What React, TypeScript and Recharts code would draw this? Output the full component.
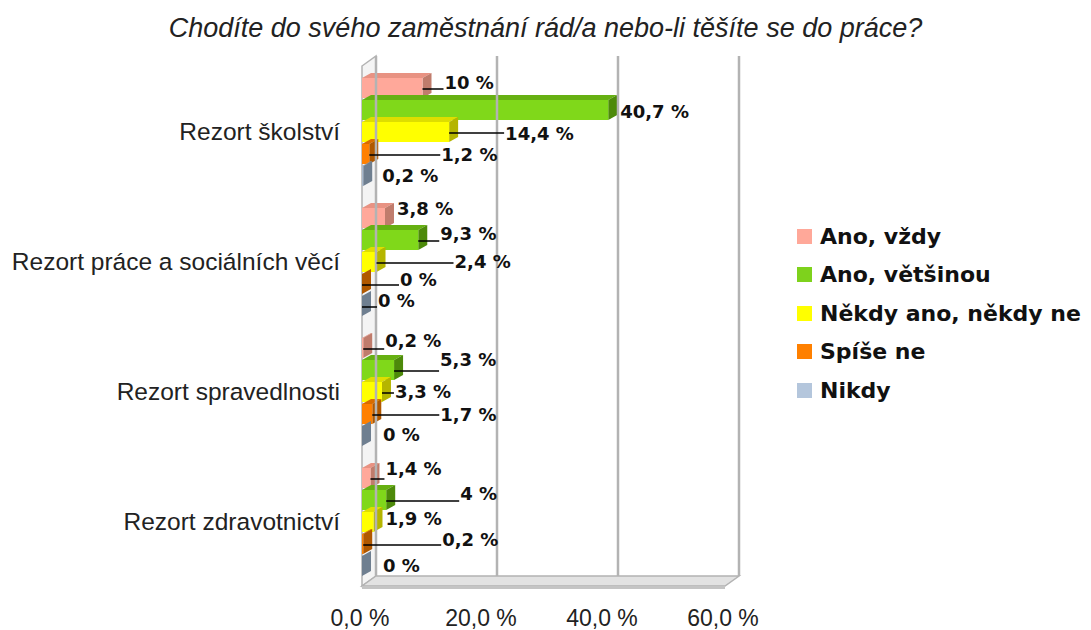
import {
  Bar,
  BarChart,
  LabelList,
  Legend,
  ReferenceArea,
  ReferenceLine,
  XAxis,
  YAxis,
} from "recharts";

const KATEGORIE = [
  "Rezort školství",
  "Rezort práce a sociálních věcí",
  "Rezort spravedlnosti",
  "Rezort zdravotnictví",
];
const ANO_VZDY = [10, 3.8, 0.2, 1.4];
const ANO_VETSINOU = [40.7, 9.3, 5.3, 4];
const NEKDY = [14.4, 2.4, 3.3, 1.9];
const SPISE_NE = [1.2, 0, 1.7, 0.2];
const NIKDY = [0.2, 0, 0, 0];
const OSA_X = [0, 20, 40, 60];

const SERIE = [
  { key: "vzdy", nazev: "Ano, vždy", hodnoty: ANO_VZDY },
  { key: "vetsinou", nazev: "Ano, většinou", hodnoty: ANO_VETSINOU },
  { key: "nekdy", nazev: "Někdy ano, někdy ne", hodnoty: NEKDY },
  { key: "spise", nazev: "Spíše ne", hodnoty: SPISE_NE },
  { key: "nikdy", nazev: "Nikdy", hodnoty: NIKDY },
];

// barvy: čelo, vršek, bok
const BARVY = [
  { celo: "#ffa89a", vrch: "#e89282", bok: "#c07c6c", legenda: "#ffa899" },
  { celo: "#80d81a", vrch: "#66b012", bok: "#4d8a0a", legenda: "#7ed21c" },
  { celo: "#ffff00", vrch: "#dede00", bok: "#b5b500", legenda: "#ffff00" },
  { celo: "#ff8000", vrch: "#d86c00", bok: "#b05800", legenda: "#ff8000" },
  { celo: "#a9b9cc", vrch: "#8c9bac", bok: "#6f7f90", legenda: "#b4c6dc" },
];

// rozložení popisků (dx od konce sloupce, dy od středu, vodicí čára)
const POPISKY: [number, number, boolean][][] = [
  [[22, -6, true], [12, -10, false], [22, -8, true], [15, -10, true]],
  [[12, 1, false], [22, -7, true], [46, -11, true], [74, -7, true]],
  [[56, 1, true], [78, -1, true], [13, -1, true], [12, -4, false]],
  [[72, 0, true], [38, -5, true], [68, 0, true], [79, -5, true]],
  [[19, -1, false], [16, -6, true], [21, -2, false], [21, -1, false]],
];

const HLOUBKA_X = 9;
const HLOUBKA_Y = -5;
const STENA_X = 14;
const STENA_Y = -10;
const MRIZKA = "#b3b3b3";
const TEXT = "#111111";
const SANS = "'Liberation Sans', Arial, sans-serif";
const BOLD = "'DejaVu Sans', Verdana, sans-serif";

const data = KATEGORIE.map((k, i) => ({
  kategorie: k,
  vzdy: ANO_VZDY[i],
  vetsinou: ANO_VETSINOU[i],
  nekdy: NEKDY[i],
  spise: SPISE_NE[i],
  nikdy: NIKDY[i],
}));

function cislo(v: number): string {
  return `${String(v).replace(".", ",")} %`;
}

function Sloupec3D(props: any, s: number) {
  const { x, y, width, height } = props;
  const b = BARVY[s];
  const w = Math.max(0, width);
  const dx = HLOUBKA_X;
  const dy = HLOUBKA_Y;
  return (
    <g>
      <polygon
        points={`${x},${y} ${x + w},${y} ${x + w + dx},${y + dy} ${x + dx},${y + dy}`}
        fill={b.vrch}
      />
      <polygon
        points={`${x + w},${y} ${x + w + dx},${y + dy} ${x + w + dx},${y + height + dy} ${x + w},${y + height}`}
        fill={b.bok}
      />
      {w > 0 && <rect x={x} y={y} width={w} height={height} fill={b.celo} />}
    </g>
  );
}

function popisek(s: number) {
  return (props: any) => {
    const { x, y, width, height, value, index } = props;
    const [dx, dy, cara] = POPISKY[s][index];
    const konec = x + Math.max(0, width);
    const stred = y + height / 2;
    return (
      <g>
        {cara && (
          <line x1={konec} y1={stred + 1} x2={konec + dx - 1} y2={stred + 1} stroke="#000" strokeWidth={1.5} />
        )}
        <text
          x={konec + dx}
          y={stred + dy}
          dominantBaseline="central"
          fontFamily={BOLD}
          fontWeight="bold"
          fontSize={18}
          fill={TEXT}
        >
          {cislo(value)}
        </text>
      </g>
    );
  };
}

function Steny(props: any) {
  const { x, y, width, height } = props;
  const b = y + height;
  const r = x + width;
  return (
    <g>
      <polygon
        points={`${x},${y} ${x + STENA_X},${y + STENA_Y} ${x + STENA_X},${b + STENA_Y} ${x},${b}`}
        fill="#f4f4f4"
        stroke={MRIZKA}
        strokeWidth={1.5}
      />
      <polygon
        points={`${x},${b} ${r},${b} ${r + STENA_X},${b + STENA_Y} ${x + STENA_X},${b + STENA_Y}`}
        fill="#e2e2e2"
        stroke={MRIZKA}
        strokeWidth={1.5}
      />
      <rect x={x} y={b} width={width} height={3} fill="#c4c4c4" />
    </g>
  );
}

function MrizkaZadni(props: any) {
  const { x1, y1, x2, y2 } = props;
  return (
    <line
      x1={x1 + STENA_X}
      y1={Math.min(y1, y2) + STENA_Y}
      x2={x2 + STENA_X}
      y2={Math.max(y1, y2) + STENA_Y}
      stroke={MRIZKA}
      strokeWidth={2.5}
    />
  );
}

function TickX({ x, y, payload }: any) {
  return (
    <text x={x - 2} y={y + 38} textAnchor="middle" fontFamily={SANS} fontSize={23} fill="#222">
      {`${payload.value.toFixed(1).replace(".", ",")} %`}
    </text>
  );
}

function TickY({ x, y, payload }: any) {
  return (
    <text x={x - 20} y={y} textAnchor="end" dominantBaseline="central" fontFamily={SANS} fontSize={24.5} fill="#222">
      {payload.value}
    </text>
  );
}

function Legenda() {
  return (
    <div style={{ fontFamily: BOLD, fontWeight: "bold", fontSize: 22, color: TEXT }}>
      {SERIE.map((s, i) => (
        <div key={s.key} style={{ display: "flex", alignItems: "center", height: 38.5 }}>
          <span style={{ display: "inline-block", width: 15, height: 15, background: BARVY[i].legenda, marginRight: 8 }} />
          {s.nazev}
        </div>
      ))}
    </div>
  );
}

export default function App() {
  return (
    <div style={{ position: "absolute", left: 0, top: 0, width: 1091, height: 630, background: "#fff" }}>
      <div
        style={{
          position: "absolute",
          left: 0,
          top: 14,
          width: 1091,
          textAlign: "center",
          fontFamily: SANS,
          fontStyle: "italic",
          fontSize: 27,
          lineHeight: "28px",
          color: "#222",
        }}
      >
        Chodíte do svého zaměstnání rád/a nebo-li těšíte se do práce?
      </div>
      <BarChart
        width={1091}
        height={630}
        data={data}
        layout="vertical"
        margin={{ top: 66, right: 366, left: 0, bottom: 0 }}
        barCategoryGap={12}
        barGap={2}
      >
        <XAxis
          type="number"
          domain={[0, 60]}
          ticks={OSA_X}
          axisLine={false}
          tickLine={false}
          tickSize={0}
          height={44}
          tick={<TickX />}
        />
        <YAxis
          type="category"
          dataKey="kategorie"
          width={362}
          axisLine={false}
          tickLine={false}
          tickSize={0}
          tick={<TickY />}
        />
        <ReferenceArea x1={0} x2={60} shape={<Steny />} ifOverflow="visible" />
        {OSA_X.map((t) => (
          <ReferenceLine key={t} x={t} shape={<MrizkaZadni />} ifOverflow="visible" />
        ))}
        <Legend
          layout="vertical"
          align="center"
          verticalAlign="middle"
          content={<Legenda />}
          wrapperStyle={{ left: 797, top: 217, width: 294 }}
        />
        {SERIE.map((s, i) => (
          <Bar
            key={s.key}
            dataKey={s.key}
            name={s.nazev}
            fill={BARVY[i].celo}
            isAnimationActive={false}
            shape={(p: any) => Sloupec3D(p, i)}
          >
            <LabelList dataKey={s.key} content={popisek(i)} />
          </Bar>
        ))}
      </BarChart>
    </div>
  );
}
